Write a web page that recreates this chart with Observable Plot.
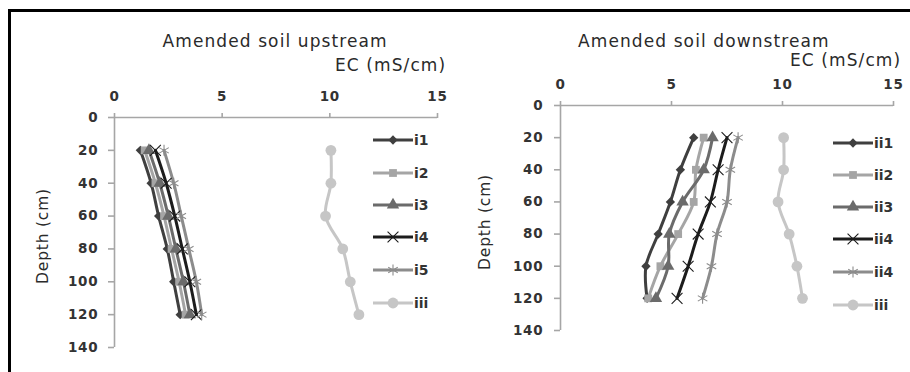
<!DOCTYPE html>
<html>
<head>
<meta charset="utf-8">
<script src="https://cdn.jsdelivr.net/npm/d3@7"></script>
<script src="https://cdn.jsdelivr.net/npm/@observablehq/plot@0.6"></script>
<style>
  html, body { margin: 0; padding: 0; background: #fff; }
  #wrap { position: relative; width: 910px; height: 372px; overflow: hidden; background: #fff; font-family: "DejaVu Sans", Verdana, sans-serif; }
  #border { position: absolute; left: 8px; top: 9px; width: 910px; height: 380px; border-top: 3px solid #000; border-left: 3px solid #000; box-sizing: border-box; }
  .pl { position: absolute; top: 0; }
  .pl text { letter-spacing: 0.8px; }
  .txt { position: absolute; color: #2a2a2a; font-size: 17px; white-space: nowrap; letter-spacing: 1.1px; }
  .txt.small { font-size: 15.5px; letter-spacing: 0.8px; }
  #legend { position: absolute; left: 0; top: 0; }
</style>
</head>
<body>
<div id="wrap">
  <div id="border"></div>
</div>
<script>
// ---------- data ----------
const depths = [20, 40, 60, 80, 100, 120];
const xTicks = [0, 5, 10, 15];
const yTicks = [0, 20, 40, 60, 80, 100, 120, 140];

const upNames = ["i1", "i2", "i3", "i4", "i5", "iii"];
const up_i1  = [1.2, 1.7, 2.05, 2.45, 2.75, 3.05];
const up_i2  = [1.4, 1.9, 2.3, 2.65, 3.0, 3.3];
const up_i3  = [1.6, 2.1, 2.5, 2.85, 3.2, 3.5];
const up_i4  = [1.9, 2.4, 2.8, 3.15, 3.5, 3.8];
const up_i5  = [2.3, 2.75, 3.1, 3.45, 3.8, 4.05];
const up_iii = [10.05, 10.05, 9.8, 10.6, 10.95, 11.35];

const downNames = ["ii1", "ii2", "ii3", "ii4", "ii4", "iii"];
const dn_ii1 = [6.0, 5.4, 4.95, 4.4, 3.85, 3.9];
const dn_ii2 = [6.45, 6.1, 6.0, 5.3, 4.5, 3.95];
const dn_ii3 = [6.85, 6.45, 5.5, 4.9, 4.85, 4.3];
const dn_ii4a = [7.5, 7.1, 6.75, 6.2, 5.75, 5.25];
const dn_ii4b = [8.0, 7.65, 7.5, 7.05, 6.8, 6.4];
const dn_iii = [10.05, 10.05, 9.8, 10.3, 10.65, 10.9];

// ---------- styles ----------
const styles = [
  {color: "#3f3f3f", symbol: "diamond2", filled: true, r: 4.2, sw: 0},
  {color: "#a5a5a5", symbol: "square", filled: true, r: 4.4, sw: 0},
  {color: "#6b6b6b", symbol: "triangle", filled: true, r: 4.6, sw: 0},
  {color: "#1c1c1c", symbol: "times", filled: false, r: 5.0, sw: 1.1},
  {color: "#8c8c8c", symbol: "asterisk", filled: false, r: 5.2, sw: 1.1},
  {color: "#c6c6c6", symbol: "circle", filled: true, r: 5.4, sw: 0}
];

function buildRows(seriesList) {
  return seriesList.map(vals => depths.map((d, i) => ({depth: d, ec: vals[i]})));
}

function makePlot(seriesList, m) {
  const rows = buildRows(seriesList);
  const marks = [
    Plot.ruleY([0], {stroke: "#a6a6a6", strokeWidth: 1.6}),
    Plot.ruleX([0], {stroke: "#a6a6a6", strokeWidth: 1.6}),
    Plot.axisX({anchor: "top", ticks: xTicks, tickSize: 5, tickPadding: 12, label: null,
      stroke: "#a6a6a6", strokeWidth: 1.6, fill: "#333", fontSize: 13.5, fontWeight: "bold"}),
    Plot.axisY({anchor: "left", ticks: yTicks, tickSize: 6, tickPadding: m.yPad, label: null,
      stroke: "#a6a6a6", strokeWidth: 1.6, fill: "#333", fontSize: 13.5, fontWeight: "bold"})
  ];
  rows.forEach((r, k) => {
    const s = styles[k];
    marks.push(Plot.line(r, {x: "ec", y: "depth", stroke: s.color, strokeWidth: 3, curve: "catmull-rom"}));
  });
  rows.forEach((r, k) => {
    const s = styles[k];
    marks.push(Plot.dot(r, s.filled
      ? {x: "ec", y: "depth", symbol: () => s.symbol, fill: s.color, stroke: "none", r: s.r}
      : {x: "ec", y: "depth", symbol: () => s.symbol, fill: "none", stroke: s.color, strokeWidth: s.sw, r: s.r}));
  });
  return Plot.plot({
    width: 455, height: 372,
    marginLeft: m.left, marginRight: m.right, marginTop: m.top, marginBottom: m.bottom,
    style: {background: "transparent", fontFamily: "DejaVu Sans, Verdana, sans-serif", overflow: "visible"},
    x: {domain: [0, 15]},
    y: {domain: [0, 140], reverse: true},
    symbol: {type: "identity"},
    marks
  });
}

const wrap = document.getElementById("wrap");

const p1 = makePlot([up_i1, up_i2, up_i3, up_i4, up_i5, up_iii], {left: 114, right: 18, top: 117, bottom: 25, yPad: 10});
p1.classList.add("pl"); p1.style.left = "0px";
wrap.appendChild(p1);

const p2 = makePlot([dn_ii1, dn_ii2, dn_ii3, dn_ii4a, dn_ii4b, dn_iii], {left: 105, right: 17, top: 105, bottom: 42, yPad: 11});
p2.classList.add("pl"); p2.style.left = "455px";
wrap.appendChild(p2);

// ---------- texts ----------
function addText(str, x, y, anchor, rotate, cls) {
  const d = document.createElement("div");
  d.className = "txt" + (cls ? " " + cls : "");
  d.textContent = str;
  wrap.appendChild(d);
  const w = d.offsetWidth, h = d.offsetHeight;
  let left = anchor === "middle" ? x - w / 2 : anchor === "end" ? x - w : x;
  d.style.left = left + "px";
  d.style.top = (y - h / 2) + "px";
  if (rotate) d.style.transform = "rotate(-90deg)";
}
addText("Amended soil upstream", 275, 41, "middle");
addText("EC (mS/cm)", 446, 65, "end");
addText("Depth (cm)", 43, 236, "middle", true, "small");
addText("Amended soil downstream", 704, 41, "middle");
addText("EC (mS/cm)", 901, 60, "end");
addText("Depth (cm)", 485, 222, "middle", true, "small");

// ---------- legends ----------
const symMap = {diamond2: d3.symbolDiamond2, square: d3.symbolSquare, triangle: d3.symbolTriangle,
  times: d3.symbolTimes, asterisk: d3.symbolAsterisk, circle: d3.symbolCircle};
const svg = d3.select(wrap).append("svg").attr("id", "legend").attr("width", 910).attr("height", 372);
function legend(names, x0, ys) {
  names.forEach((n, k) => {
    const s = styles[k], y = ys[k];
    svg.append("line").attr("x1", x0).attr("x2", x0 + 40).attr("y1", y).attr("y2", y)
      .attr("stroke", s.color).attr("stroke-width", 3);
    const p = svg.append("path").attr("transform", `translate(${x0 + 20},${y})`)
      .attr("d", d3.symbol(symMap[s.symbol], s.r * s.r * Math.PI)());
    if (s.filled) p.attr("fill", s.color); else p.attr("fill", "none").attr("stroke", s.color).attr("stroke-width", s.sw);
    svg.append("text").attr("x", x0 + 41).attr("y", y).attr("dy", "0.35em")
      .attr("font-family", "DejaVu Sans, Verdana, sans-serif").attr("font-size", 14).attr("font-weight", "bold")
      .attr("fill", "#333").text(n);
  });
}
legend(upNames, 373, [140, 173, 205, 237, 270, 303]);
legend(downNames, 833, [143, 175, 207, 239, 272, 305]);
</script>
</body>
</html>
